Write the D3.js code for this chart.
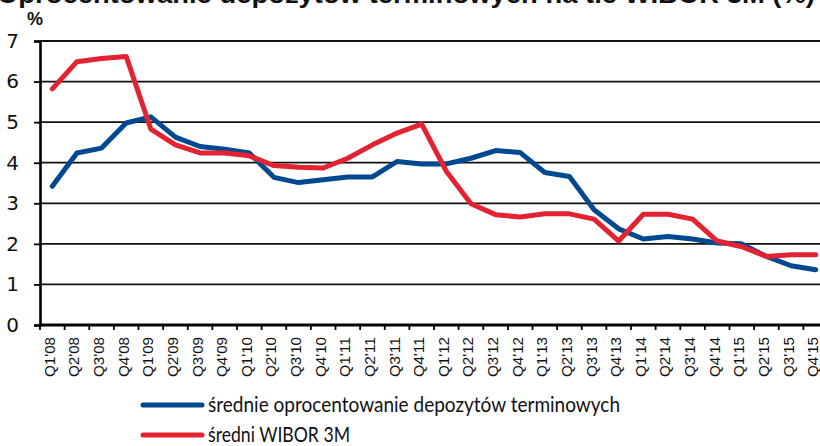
<!DOCTYPE html>
<html>
<head>
<meta charset="utf-8">
<script src="https://cdn.jsdelivr.net/npm/d3@7"></script>
<style>
  html, body { margin: 0; padding: 0; background: #fff; }
  svg { display: block; }
</style>
</head>
<body>
<div id="chart"></div>
<script>
// Quarterly categories
const quarters = [
  "Q1'08","Q2'08","Q3'08","Q4'08","Q1'09","Q2'09","Q3'09","Q4'09",
  "Q1'10","Q2'10","Q3'10","Q4'10","Q1'11","Q2'11","Q3'11","Q4'11",
  "Q1'12","Q2'12","Q3'12","Q4'12","Q1'13","Q2'13","Q3'13","Q4'13",
  "Q1'14","Q2'14","Q3'14","Q4'14","Q1'15","Q2'15","Q3'15","Q4'15"
];
// Average interest on term deposits (%)
const deposits = [
  3.42, 4.24, 4.36, 4.98, 5.13, 4.63, 4.40, 4.33,
  4.24, 3.64, 3.51, 3.58, 3.65, 3.65, 4.03, 3.97,
  3.97, 4.11, 4.30, 4.25, 3.76, 3.66, 2.84, 2.37,
  2.12, 2.18, 2.12, 2.02, 2.00, 1.69, 1.46, 1.36
];
// Average WIBOR 3M (%)
const wibor = [
  5.82, 6.49, 6.57, 6.62, 4.83, 4.44, 4.24, 4.24,
  4.17, 3.93, 3.89, 3.87, 4.11, 4.44, 4.73, 4.95,
  3.79, 2.99, 2.72, 2.66, 2.74, 2.74, 2.61, 2.07,
  2.73, 2.73, 2.61, 2.07, 1.93, 1.69, 1.73, 1.73
];
const yTicks = [0, 1, 2, 3, 4, 5, 6, 7];
const titleText = "Oprocentowanie depozytów terminowych na tle WIBOR 3M (%)";
const seriesNames = ["średnie oprocentowanie depozytów terminowych", "średni WIBOR 3M"];
const seriesColors = ["#004990", "#e32232"];

const W = 820, H = 446;
const svg = d3.select("#chart").append("svg").attr("width", W).attr("height", H);

const x = d3.scaleBand().domain(quarters).range([40, 828]).paddingInner(0).paddingOuter(0);
const y = d3.scaleLinear().domain([0, 7]).range([325, 41]);

// Title (partly above the top edge)
svg.append("text")
  .attr("x", -3).attr("y", 3)
  .attr("font-family", "Liberation Sans, Arial, sans-serif")
  .attr("font-weight", "bold").attr("font-size", 25)
  .attr("textLength", 818).attr("lengthAdjust", "spacingAndGlyphs")
  .attr("fill", "#111")
  .text(titleText);

// Unit label
svg.append("text")
  .attr("x", 27).attr("y", 25)
  .attr("font-family", "Liberation Sans Narrow, Liberation Sans, Arial, sans-serif")
  .attr("font-weight", "bold").attr("font-size", 18)
  .attr("fill", "#111")
  .text("%");

// Horizontal gridlines
svg.append("g").selectAll("line")
  .data(yTicks.filter(d => d > 0))
  .join("line")
  .attr("x1", 40).attr("x2", W)
  .attr("y1", d => y(d)).attr("y2", d => y(d))
  .attr("stroke", "#111").attr("stroke-width", 1.8);

// Y axis
const yAxis = svg.append("g").attr("transform", "translate(40,0)")
  .call(d3.axisLeft(y).tickValues(yTicks).tickSize(6).tickPadding(15).tickFormat(d3.format("d")));
yAxis.select(".domain").attr("stroke", "#000").attr("stroke-width", 2.6);
yAxis.selectAll(".tick line").attr("stroke", "#000").attr("stroke-width", 1.8);
yAxis.selectAll(".tick text")
  .attr("font-family", "DejaVu Sans, sans-serif")
  .attr("font-size", 20).attr("fill", "#111");

// X axis with ticks on category boundaries
const xAxisG = svg.append("g").attr("transform", "translate(0,325)");
xAxisG.append("line").attr("x1", 39).attr("x2", W)
  .attr("stroke", "#000").attr("stroke-width", 2.8);
const boundaries = quarters.map(q => x(q)).concat([x(quarters[quarters.length - 1]) + x.bandwidth()]);
xAxisG.selectAll("line.tk").data(boundaries).join("line").attr("class", "tk")
  .attr("x1", d => d).attr("x2", d => d).attr("y1", 0).attr("y2", 5)
  .attr("stroke", "#000").attr("stroke-width", 1.8);
xAxisG.selectAll("text").data(quarters).join("text")
  .attr("transform", d => `translate(${x(d) + x.bandwidth() / 2 + 2.5},12) rotate(-90)`)
  .attr("text-anchor", "end")
  .attr("font-family", "Liberation Sans, Arial, sans-serif")
  .attr("font-size", 14)
  .attr("textLength", 40).attr("lengthAdjust", "spacingAndGlyphs")
  .attr("fill", "#111")
  .text(d => d);

// Series lines
const line = d3.line()
  .x((d, i) => x(quarters[i]) + x.bandwidth() / 2)
  .y(d => y(d));
[deposits, wibor].forEach((vals, k) => {
  svg.append("path").datum(vals)
    .attr("d", line)
    .attr("fill", "none")
    .attr("stroke", seriesColors[k])
    .attr("stroke-width", 5)
    .attr("stroke-linejoin", "round")
    .attr("stroke-linecap", "round");
});

// Legend
const legendWidths = [412, 142];
const legend = svg.append("g");
seriesNames.forEach((name, k) => {
  const ly = 405 + k * 30;
  legend.append("line")
    .attr("x1", 143).attr("x2", 202).attr("y1", ly).attr("y2", ly)
    .attr("stroke", seriesColors[k]).attr("stroke-width", 5).attr("stroke-linecap", "round");
  legend.append("text")
    .attr("x", 208).attr("y", ly + 7)
    .attr("font-family", "Lato, sans-serif")
    .attr("font-size", 21)
    .attr("textLength", legendWidths[k]).attr("lengthAdjust", "spacingAndGlyphs")
    .attr("fill", "#111")
    .text(name);
});
</script>
</body>
</html>
